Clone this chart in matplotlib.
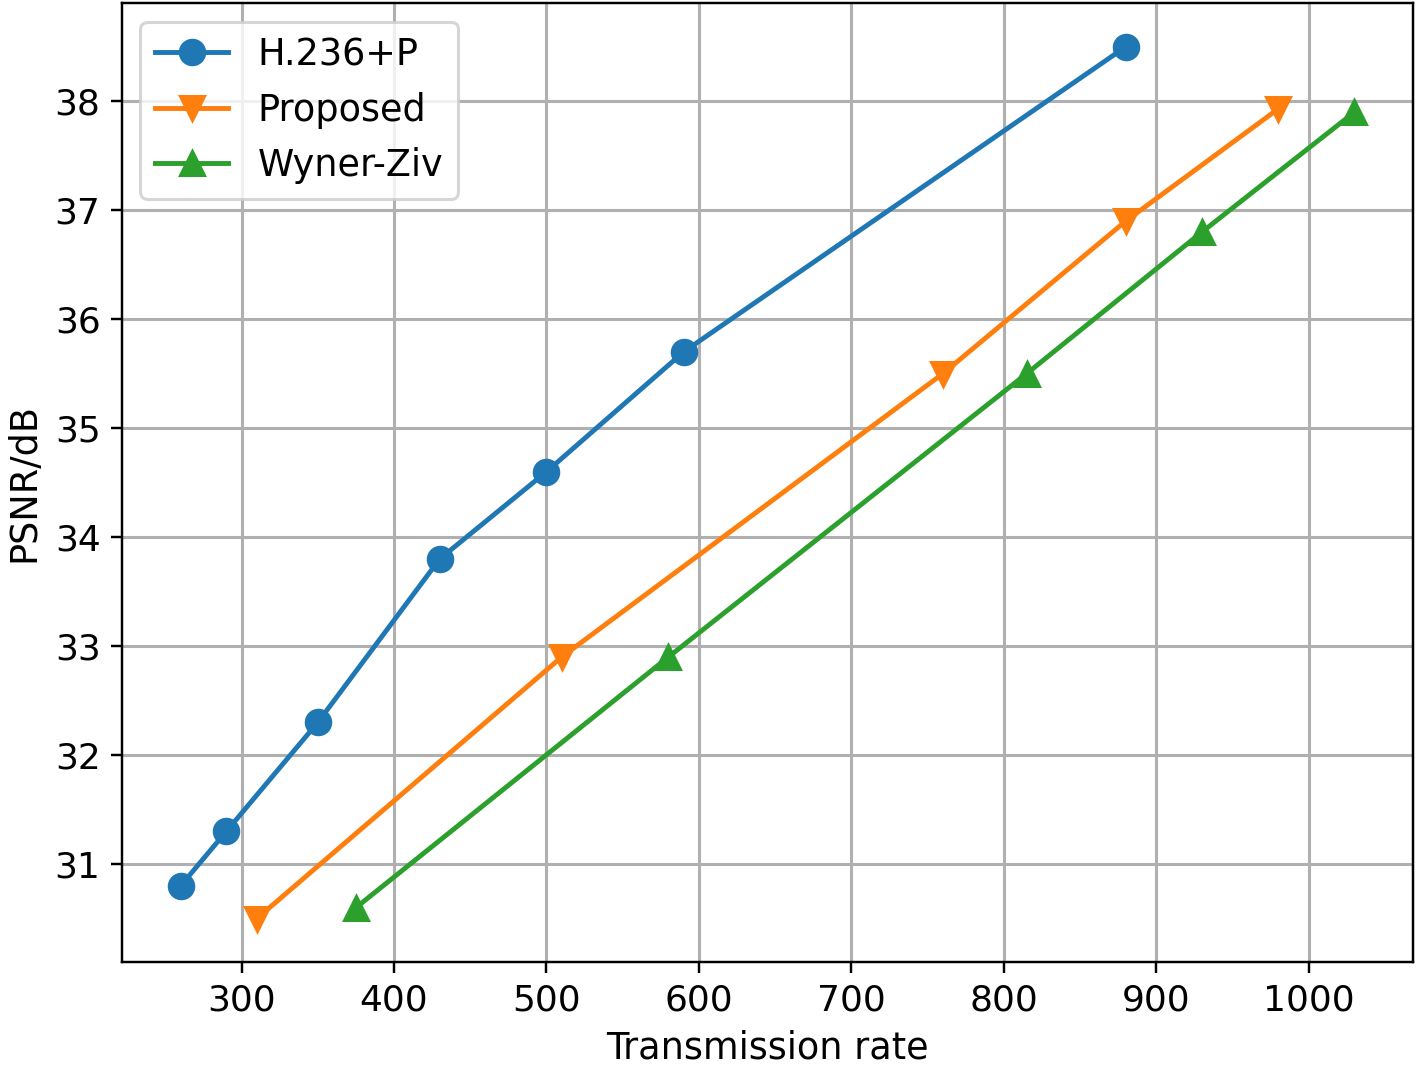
import numpy as np
import matplotlib
matplotlib.use("Agg")
import matplotlib.pyplot as plt

# ---------------- Data ----------------
h236_rate = [260, 290, 350, 430, 500, 590, 880]
h236_psnr = [30.8, 31.3, 32.3, 33.8, 34.6, 35.7, 38.5]

proposed_rate = [310, 510, 760, 880, 980]
proposed_psnr = [30.5, 32.9, 35.5, 36.9, 37.93]

wz_rate = [375, 580, 815, 930, 1030]
wz_psnr = [30.6, 32.9, 35.5, 36.8, 37.9]

# ---------------- Plot ----------------
fig, ax = plt.subplots(figsize=(1418 / 220, 1069 / 220), dpi=220)
fig.subplots_adjust(left=0.086, right=0.9965, top=0.997, bottom=0.1)

ax.plot(h236_rate, h236_psnr, marker="o", markersize=8, linewidth=1.6, label="H.236+P")
ax.plot(proposed_rate, proposed_psnr, marker="v", markersize=8, linewidth=1.6, label="Proposed")
ax.plot(wz_rate, wz_psnr, marker="^", markersize=8, linewidth=1.6, label="Wyner-Ziv")

ax.set_xlabel("Transmission rate", fontsize=12)
ax.set_ylabel("PSNR/dB", fontsize=12)
ax.tick_params(labelsize=11.8)
ax.grid(True, linewidth=1)
ax.legend(loc="upper left", fontsize=12)

fig.savefig("out.png", dpi=220)
